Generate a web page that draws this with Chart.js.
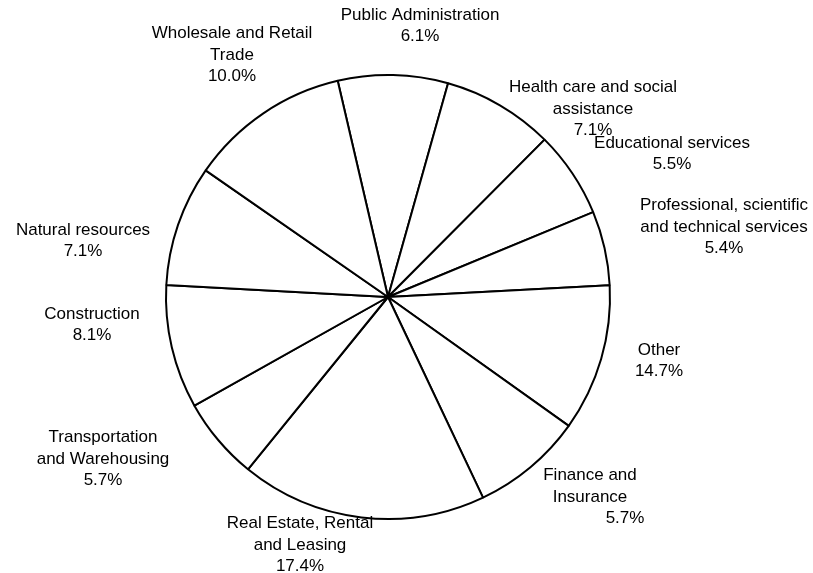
<!DOCTYPE html>
<html>
<head>
<meta charset="utf-8">
<script src="https://cdn.jsdelivr.net/npm/chart.js@4.4.0/dist/chart.umd.min.js"></script>
<style>
  html, body { margin: 0; padding: 0; background: #fff; }
  #wrap { width: 813px; height: 573px; }
</style>
</head>
<body>
<div id="wrap"><canvas id="canvas_industry_pie"></canvas></div>
<script>
// industries, clockwise from the top
var industry_labels = [
  ["Public Administration"],
  ["Health care and social", "assistance"],
  ["Educational services"],
  ["Professional, scientific", "and technical services"],
  ["Other"],
  ["Finance and", "Insurance"],
  ["Real Estate, Rental", "and Leasing"],
  ["Transportation", "and Warehousing"],
  ["Construction"],
  ["Natural resources"],
  ["Wholesale and Retail", "Trade"]
];
// percent printed in each label
var label_percents = ["6.1%", "7.1%", "5.5%", "5.4%", "14.7%", "5.7%", "17.4%", "5.7%", "8.1%", "7.1%", "10.0%"];
// share of the circle each slice takes in the picture (%)
var slice_shares = [8.0, 8.1, 6.3, 5.4, 10.7, 8.1, 17.9, 6.0, 9.0, 8.8, 11.7];

// label block centre, relative to pie centre (px)
var label_offsets = [
  [32, -271], [205, -188], [284, -143], [336, -70], [271, 64], [202, 200],
  [-88, 248], [-285, 162], [-296, 28], [-305, -56], [-156, -242]
];
var pct_shift = [0, 0, 0, 0, 0, 35, 0, 0, 0, 0, 0];

var outsideLabels = {
  id: 'outsideLabels',
  afterDatasetsDraw: function(chart) {
    var ctx = chart.ctx;
    var meta = chart.getDatasetMeta(0);
    var lineH = 21.5;
    ctx.save();
    ctx.font = '17px "Liberation Sans", Arial, sans-serif';
    ctx.fillStyle = '#000';
    ctx.textAlign = 'center';
    ctx.textBaseline = 'middle';
    meta.data.forEach(function(arc, i) {
      var lines = industry_labels[i].concat([label_percents[i]]);
      var cx = arc.x + label_offsets[i][0];
      var cy = arc.y + label_offsets[i][1];
      var top = cy - (lines.length - 1) * lineH / 2;
      lines.forEach(function(t, j) {
        var x = cx + (j === lines.length - 1 ? pct_shift[i] : 0);
        ctx.fillText(t, x, top + j * lineH);
      });
    });
    ctx.restore();
  }
};

function drawIndustryPie() {
  var ctx = document.getElementById("canvas_industry_pie");
  var pieChart = new Chart(ctx, {
    type: 'pie',
    data: {
      labels: industry_labels.map(function(l) { return l.join(' '); }),
      datasets: [{
        data: slice_shares,
        backgroundColor: '#ffffff',
        borderColor: '#000000',
        borderWidth: 2
      }]
    },
    options: {
      responsive: true,
      maintainAspectRatio: false,
      animation: false,
      rotation: -13.1,
      radius: 222,
      layout: { padding: { top: 74, bottom: 53, left: 0, right: 37 } },
      plugins: {
        legend: { display: false },
        tooltip: { enabled: false }
      }
    },
    plugins: [outsideLabels]
  });
}

drawIndustryPie();
</script>
</body>
</html>
